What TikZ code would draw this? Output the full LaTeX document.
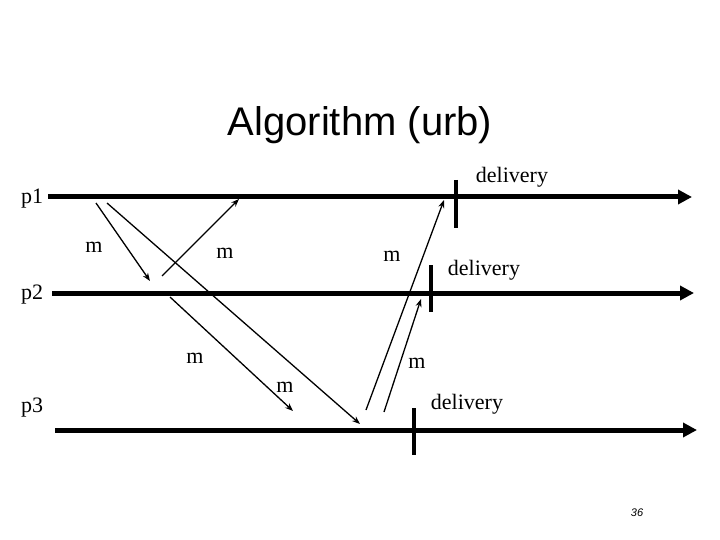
\documentclass[tikz,border=0pt]{standalone}
\usepackage{fontspec}
\setmainfont{Liberation Serif}
\newfontfamily\arialf{Liberation Sans}
\usetikzlibrary{arrows.meta}
\begin{document}
\begin{tikzpicture}[x=1pt,y=-1pt,
  proc/.style={line width=5pt,-{Triangle[length=14pt,width=14pt]}},
  msg/.style={line width=1.3pt,-{Stealth[length=8pt,width=6pt]}},
  tick/.style={line width=3.5pt},
  lab/.style={font=\fontsize{22}{24}\selectfont},
  every node/.style={inner sep=0pt}]
\useasboundingbox (0,0) rectangle (720,540);
\node (title) at (360,125) {\arialf\fontsize{40}{44}\selectfont Algorithm (urb)};
\node[lab] (l1) at (32,199) {p1};
\node[lab] (l2) at (32,295) {p2};
\node[lab] (l3) at (32,408) {p3};
\coordinate (a1) at (48,197); \coordinate (b1) at (692,197);
\coordinate (a2) at (52,293); \coordinate (b2) at (694,293);
\coordinate (a3) at (55,430); \coordinate (b3) at (697,430);
\draw[proc] (a1) -- (b1);
\draw[proc] (a2) -- (b2);
\draw[proc] (a3) -- (b3);
\coordinate (t1a) at (456,180); \coordinate (t1b) at (456,228);
\coordinate (t2a) at (431,265); \coordinate (t2b) at (431,312);
\coordinate (t3a) at (414,408); \coordinate (t3b) at (414,455);
\draw[tick] (t1a) -- (t1b);
\draw[tick] (t2a) -- (t2b);
\draw[tick] (t3a) -- (t3b);
\coordinate (s1) at (96,203); \coordinate (e1) at (150,281);
\coordinate (s2) at (107,203); \coordinate (e2) at (360,424);
\coordinate (s3) at (162,276); \coordinate (e3) at (239,199);
\coordinate (s4) at (170,297); \coordinate (e4) at (293,411);
\coordinate (s5) at (366,410); \coordinate (e5) at (444,200);
\coordinate (s6) at (384,412); \coordinate (e6) at (421,299);
\draw[msg] (s1) -- (e1);
\draw[msg] (s2) -- (e2);
\draw[msg] (s3) -- (e3);
\draw[msg] (s4) -- (e4);
\draw[msg] (s5) -- (e5);
\draw[msg] (s6) -- (e6);
\node[lab] (m1) at (94,247) {m};
\node[lab] (m2) at (225,253) {m};
\node[lab] (m3) at (392,256) {m};
\node[lab] (m4) at (195,358) {m};
\node[lab] (m5) at (285,387) {m};
\node[lab] (m6) at (417,363) {m};
\node[lab] (d1) at (512,177) {delivery};
\node[lab] (d2) at (484,270) {delivery};
\node[lab] (d3) at (467,404) {delivery};
\node (pg) at (637,513) {\arialf\itshape\fontsize{11}{12}\selectfont 36};
\end{tikzpicture}
\end{document}
